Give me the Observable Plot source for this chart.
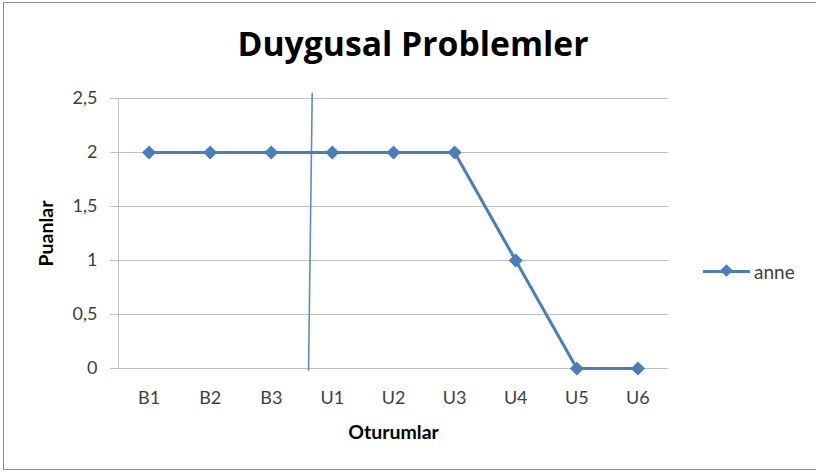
<!DOCTYPE html>
<html><head><meta charset="utf-8">
<script src="https://cdn.jsdelivr.net/npm/d3@7"></script>
<script src="https://cdn.jsdelivr.net/npm/@observablehq/plot@0.6"></script>
<style>
html,body{margin:0;padding:0;background:#fff;overflow:hidden;}
#frame{position:absolute;left:3px;top:2px;width:830px;height:468px;border:1px solid #8c8c8c;box-sizing:border-box;}
#title{position:absolute;left:0;top:27px;width:826px;text-align:center;font-family:"Open Sans",sans-serif;font-weight:bold;font-size:33.7px;line-height:1;color:#000;}
#chart{position:absolute;left:0;top:80px;}
#legend{position:absolute;left:703px;top:260px;font-family:Lato,sans-serif;font-size:19px;color:#404040;display:flex;align-items:center;height:22px;}
#legend .ln{position:relative;width:47px;height:3px;background:#4a7ebb;margin-right:4px;}
#legend .dm{position:absolute;left:19px;top:-3.5px;width:9px;height:9px;background:#4a7ebb;transform:rotate(45deg);}
</style></head>
<body>
<div id="frame"></div>
<div id="title">Duygusal Problemler</div>
<div id="chart"></div>
<div id="legend"><div class="ln"><div class="dm"></div></div><span>anne</span></div>
<script>
const sessions = ["B1","B2","B3","U1","U2","U3","U4","U5","U6"];
const anne = [2,2,2,2,2,2,1,0,0];
const yTicks = [0,0.5,1,1.5,2,2.5];
const seriesName = "anne";
const phaseLine = [{x1:2.67, y1:2.55, x2:2.61, y2:-0.02}];

const data = sessions.map((s,i)=>({i, s, v: anne[i]}));
const diamond = {draw(ctx, size){const h=Math.sqrt(size/2);ctx.moveTo(0,-h);ctx.lineTo(h,0);ctx.lineTo(0,h);ctx.lineTo(-h,0);ctx.closePath();}};
const blue = "#4a7ebb";

const chart = Plot.plot({
  width: 816, height: 394,
  marginLeft: 118, marginRight: 148, marginTop: 18, marginBottom: 106,
  style: {fontFamily: "Lato, sans-serif", fontSize: "18px", color: "#404040", background: "transparent"},
  x: {domain: [-0.5, 8.5], label: null},
  y: {domain: [0, 2.5], label: null},
  marks: [
    Plot.ruleY(yTicks, {y: d=>d, x1: -0.5 - 8/61.1, x2: 8.5, stroke: "#bfbfbf", strokeWidth: 1}),
    Plot.ruleX([-0.5], {y1: 0, y2: 2.5, stroke: "#bfbfbf", strokeWidth: 1}),
    Plot.axisX({ticks: sessions.map((_,i)=>i), tickFormat: i => sessions[i], tickSize: 0, tickPadding: 23, label: null, fill: "#404040", fontSize: 18}),
    Plot.axisY({ticks: yTicks, tickFormat: d => String(d).replace(".", ","), tickSize: 0, tickPadding: 21, label: null, fill: "#404040", fontSize: 18}),
    Plot.text(["Oturumlar"], {frameAnchor: "bottom", dy: 70, fontWeight: "bold", fill: "#000", fontSize: 19.5}),
    Plot.text(["Puanlar"], {frameAnchor: "left", textAnchor: "middle", dx: -72, rotate: -90, fontWeight: "bold", fill: "#000", fontSize: 19.5}),
    Plot.link(phaseLine, {x1: "x1", y1: "y1", x2: "x2", y2: "y2", stroke: "#5b8cc9", strokeWidth: 1.6}),
    Plot.line(data, {x: "i", y: "v", stroke: blue, strokeWidth: 3}),
    Plot.dot(data, {x: "i", y: "v", symbol: diamond, r: 5.6, fill: blue, stroke: "none"})
  ]
});
document.getElementById("chart").appendChild(chart);
</script>
</body></html>
